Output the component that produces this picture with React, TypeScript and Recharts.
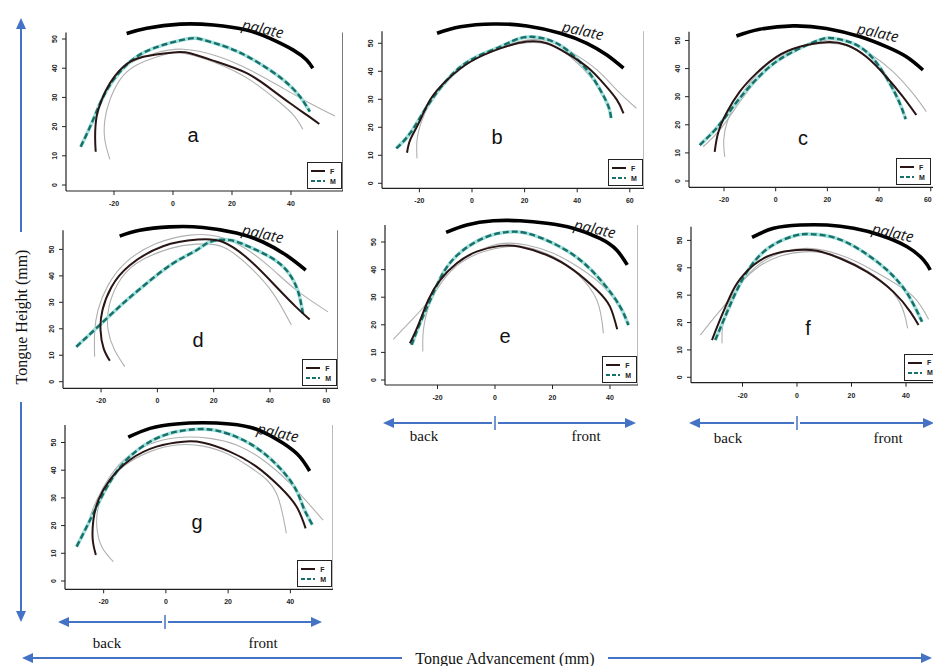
import React from 'react';
import { LineChart, Line, XAxis, YAxis, ReferenceLine, Legend } from 'recharts';

// ---------- data: [x (mm advancement), y (mm height)] ----------
const yTicks = [0, 10, 20, 30, 40, 50];
const xTicksShort = [-20, 0, 20, 40];
const xTicksLong = [-20, 0, 20, 40, 60];

const aPalate = [[-15.7,51.9],[-8.9,53.7],[2.4,55.1],[13.7,54.8],[24.9,53.1],[32.9,50.2],[40.8,46.2],[45.3,42.8],[47.4,40.0]];
const aF = [[-26.2,11.4],[-26.4,16.5],[-25.9,23.4],[-24.2,29.1],[-21.4,34.8],[-16.8,40.5],[-10.1,43.9],[0.1,45.4],[5.8,45.1],[14.8,42.2],[25.0,38.3],[32.9,33.1],[39.7,28.0],[45.3,24.0],[49.6,20.9]];
const aM = [[-31.3,13.1],[-27.6,21.1],[-24.2,29.1],[-20.2,36.0],[-14.6,42.2],[-6.7,46.8],[4.6,50.0],[10.3,49.7],[19.3,46.8],[28.4,42.2],[37.4,36.0],[43.1,30.2],[46.4,25.1]];
const aIn = [[-21.4,8.8],[-23.1,15.4],[-23.1,22.3],[-21.4,29.1],[-18.0,36.0],[-12.3,41.1],[-3.3,44.5],[3.5,45.1],[14.8,41.7],[26.1,36.0],[35.2,29.1],[40.8,24.0],[44.0,19.1]];
const aOut = [[-24.7,28.0],[-20.2,36.5],[-14.6,41.7],[-5.5,45.3],[3.5,46.5],[14.8,44.2],[26.1,39.4],[37.4,33.1],[46.4,28.0],[54.9,23.6]];

const bPalate = [[-13.3,53.6],[-4.4,55.9],[8.2,56.9],[20.9,56.2],[33.6,53.6],[43.7,50.0],[51.3,45.8],[57.6,41.1]];
const bF = [[-24.7,10.9],[-23.5,15.5],[-20.3,21.4],[-15.9,29.8],[-9.5,36.9],[-0.6,43.4],[10.8,48.2],[20.9,50.6],[28.5,50.0],[36.1,46.4],[43.7,41.6],[50.0,35.7],[55.1,29.8],[57.6,25.0]];
const bM = [[-28.8,12.5],[-23.5,17.9],[-17.1,27.4],[-9.5,36.9],[-0.6,44.0],[10.8,48.8],[19.6,52.1],[28.5,51.4],[36.1,47.6],[43.7,40.5],[48.8,33.3],[51.9,27.4],[52.9,23.2]];
const bIn = [[-20.9,8.9],[-20.9,15.5],[-19.0,22.6],[-15.2,29.8],[-8.9,36.9],[-0.6,43.4],[10.8,48.2],[20.9,50.2],[29.8,49.4],[37.4,45.2],[45.0,38.1],[50.0,30.9],[52.6,25.0]];
const bOut = [[-27.9,13.1],[-22.2,19.0],[-15.9,28.6],[-9.5,36.3],[-0.6,43.4],[10.8,48.6],[20.9,51.2],[29.8,50.6],[38.6,46.4],[47.5,40.5],[55.1,33.3],[62.5,26.8]];

const cPalate = [[-15.2,51.6],[-6.2,54.0],[6.7,55.2],[19.6,54.3],[32.5,51.4],[42.8,47.8],[50.6,44.2],[57.0,39.5]];
const cF = [[-23.6,10.4],[-22.3,17.0],[-19.1,24.1],[-13.9,31.8],[-7.5,38.3],[0.3,44.2],[9.3,47.8],[19.6,49.4],[27.4,48.4],[35.1,44.2],[42.8,37.1],[49.2,30.0],[54.4,23.5]];
const cM = [[-29.4,12.8],[-22.9,18.8],[-16.5,26.4],[-10.1,33.6],[-2.3,40.7],[6.7,46.0],[17.0,50.2],[22.2,50.8],[29.9,49.0],[37.6,43.7],[44.1,34.8],[48.0,27.7],[50.3,22.0]];
const cIn = [[-19.7,8.6],[-20.1,14.6],[-18.5,21.7],[-13.9,30.0],[-7.5,37.7],[0.3,43.7],[10.6,47.8],[19.6,49.0],[28.6,47.8],[36.4,43.1],[44.1,34.8],[49.2,25.3]];
const cOut = [[-28.1,12.2],[-21.7,18.1],[-15.2,26.4],[-8.8,34.2],[-1.0,41.3],[8.0,46.6],[18.3,49.9],[27.4,49.6],[36.4,45.4],[45.4,38.9],[53.1,31.2],[58.3,24.7]];

const dPalate = [[-13.4,55.0],[-6.3,57.2],[4.4,58.5],[16.2,58.3],[28.1,56.2],[37.5,52.8],[45.8,47.8],[52.7,42.2]];
const dF = [[-16.9,7.9],[-19.1,12.6],[-20.2,19.5],[-19.5,27.1],[-16.3,35.8],[-9.8,44.0],[2.0,51.2],[14.4,53.7],[23.3,52.8],[32.8,45.9],[42.3,35.8],[49.4,28.1],[54.1,23.5]];
const dM = [[-28.8,13.2],[-20.5,21.4],[-12.2,29.6],[-3.9,37.1],[5.5,44.7],[13.9,49.7],[18.6,52.8],[25.7,53.5],[32.8,50.9],[39.9,47.2],[45.8,42.2],[49.4,35.8],[50.8,30.8],[51.7,25.8]];
const dIn = [[-11.6,5.7],[-15.2,12.0],[-17.5,19.5],[-17.2,28.3],[-14.0,37.1],[-7.5,44.7],[4.4,50.3],[13.9,52.0],[23.3,50.9],[32.8,43.4],[41.1,33.4],[47.6,21.4]];
const dOut = [[-22.3,9.4],[-22.3,18.3],[-21.1,27.1],[-17.5,36.5],[-11.0,45.3],[-0.4,52.2],[11.5,55.4],[21.0,55.0],[30.4,50.9],[39.9,43.4],[49.4,34.6],[60.6,26.4]];

const ePalate = [[-17.0,53.5],[-9.8,56.2],[-0.6,57.7],[8.7,57.7],[18.0,56.8],[27.2,55.0],[36.5,51.3],[42.3,47.1],[46.0,41.7]];
const eF = [[-29.6,13.3],[-26.7,19.9],[-23.2,29.0],[-19.1,36.2],[-13.3,42.3],[-6.4,46.5],[1.7,48.6],[8.7,48.3],[18.0,45.3],[27.2,39.9],[35.4,32.6],[40.0,26.6],[42.5,18.4]];
const eM = [[-29.0,12.7],[-26.1,20.5],[-22.0,30.2],[-17.4,39.9],[-11.0,47.1],[-2.9,51.9],[4.1,53.6],[11.0,53.2],[20.3,49.5],[29.6,43.5],[37.7,35.0],[43.5,26.6],[46.4,19.9]];
const eIn = [[-25.1,10.3],[-24.9,18.1],[-22.6,27.8],[-18.0,36.2],[-12.2,42.3],[-4.1,46.5],[4.1,48.3],[11.0,48.1],[20.3,44.7],[28.4,38.7],[35.4,29.0],[37.7,16.9]];
const eOut = [[-35.4,14.7],[-29.6,21.1],[-23.8,27.8],[-19.1,35.6],[-13.3,42.3],[-5.2,47.1],[2.9,49.5],[11.0,48.9],[20.3,45.9],[29.6,40.5],[38.9,32.6],[46.7,20.5]];

const fPalate = [[-16.5,51.1],[-8.6,54.4],[1.2,55.6],[11.0,55.6],[20.8,54.4],[30.6,51.9],[40.4,47.7],[46.5,42.8],[48.9,39.2]];
const fF = [[-31.2,13.6],[-28.8,19.7],[-25.7,27.0],[-22.0,34.3],[-15.9,41.0],[-8.6,45.0],[0,46.5],[7.3,46.2],[15.9,43.4],[25.7,38.5],[35.4,31.2],[41.6,23.9],[44.6,19.1]];
const fM = [[-30.0,13.6],[-26.9,20.9],[-22.6,30.7],[-17.1,40.4],[-9.8,47.7],[-1.2,51.6],[4.9,52.3],[13.4,51.1],[23.2,46.5],[33.0,39.2],[40.4,30.7],[45.9,20.3]];
const fIn = [[-27.5,12.4],[-27.2,19.1],[-24.5,28.2],[-20.2,34.9],[-14.1,40.4],[-6.1,44.3],[2.4,45.8],[11.0,45.3],[20.8,41.6],[30.6,35.5],[37.9,27.0],[40.6,17.9]];
const fOut = [[-35.5,15.4],[-30.6,21.5],[-25.1,28.2],[-19.6,35.5],[-13.5,41.6],[-4.9,45.8],[3.7,47.1],[12.2,45.8],[21.9,42.2],[33.0,36.1],[42.8,29.4],[48.3,21.2]];

const gPalate = [[-12.1,51.9],[-5.1,55.1],[3.4,56.7],[12.0,57.1],[20.5,56.7],[29.1,54.8],[37.7,49.7],[43.0,44.9],[46.2,39.7]];
const gF = [[-22.5,9.4],[-23.5,14.8],[-23.3,22.0],[-21.7,29.2],[-18.0,36.5],[-11.6,43.7],[-3.0,48.5],[5.6,50.3],[12.0,49.9],[20.5,46.7],[29.1,41.3],[36.6,34.0],[42.0,26.8],[44.9,19.0]];
const gM = [[-28.7,12.4],[-24.9,20.8],[-21.2,29.2],[-16.9,37.7],[-11.6,44.9],[-4.1,50.9],[3.4,53.9],[9.9,54.8],[16.3,54.3],[24.8,50.9],[33.4,44.3],[40.9,34.7],[44.1,26.8],[47.1,20.2]];
const gIn = [[-16.9,7.0],[-20.6,12.4],[-22.2,19.6],[-21.7,26.8],[-19.0,34.0],[-13.7,41.3],[-5.1,46.7],[3.4,49.1],[12.0,48.7],[20.5,45.5],[29.1,39.5],[35.5,31.7],[38.7,17.2]];
const gOut = [[-24.4,23.2],[-22.2,29.2],[-18.0,37.7],[-11.6,45.5],[-3.0,50.3],[5.6,51.9],[14.1,51.5],[22.7,49.1],[31.2,43.7],[39.8,35.3],[50.5,22.0]];

// ---------- styles ----------
const F_COLOR = '#2a1515';
const M_DARK = '#17706a';
const M_LIGHT = '#a3e0db';
const GREY = '#b0b0b0';
const AXIS = '#222';
const BLUE = '#4472C4';
const SANS = '"Liberation Sans", Arial, sans-serif';
const SERIF = '"Liberation Serif", "Times New Roman", serif';
const PAGE_W = 933;

const toPts = (arr: number[][]) => arr.map(([x, y]) => ({ x, y }));

type PanelCfg = {
  id: string;
  left: number; top: number; width: number; height: number;
  xDomain: [number, number]; yDomain: [number, number];
  xTicks: number[]; frameTop: number; rightFrame: boolean; legendShift: number;
  palate: number[][]; f: number[][]; m: number[][]; inner: number[][]; outer: number[][];
};

const XH = 24; // x-axis band height
const YW = 30; // y-axis band width

const panels: PanelCfg[] = [
  { id: 'a', left: 36, top: 15, width: YW + 277, height: 176 + XH, xDomain: [-36.27, 57.63], yDomain: [-2.05, 58.22], xTicks: xTicksShort, frameTop: 52.2, rightFrame: true, legendShift: 0, palate: aPalate, f: aF, m: aM, inner: aIn, outer: aOut },
  { id: 'b', left: 351.7, top: 15, width: YW + 262.3, height: 173.3 + XH, xDomain: [-34.22, 65.51], yDomain: [-1.79, 60.1], xTicks: xTicksLong, frameTop: 54.3, rightFrame: true, legendShift: 0, palate: bPalate, f: bF, m: bM, inner: bIn, outer: bOut },
  { id: 'c', left: 659.3, top: 15, width: YW + 247.7, height: 172.3 + XH, xDomain: [-33.54, 62.3], yDomain: [-2.24, 59.07], xTicks: xTicksLong, frameTop: 53.1, rightFrame: true, legendShift: 5, palate: cPalate, f: cF, m: cM, inner: cIn, outer: cOut },
  { id: 'd', left: 33.3, top: 215, width: YW + 275, height: 173.3 + XH, xDomain: [-33.53, 64.16], yDomain: [-2.49, 63.0], xTicks: xTicksLong, frameTop: 57.2, rightFrame: true, legendShift: 0, palate: dPalate, f: dF, m: dM, inner: dIn, outer: dOut },
  { id: 'e', left: 355, top: 210, width: YW + 253.3, height: 175 + XH, xDomain: [-38.26, 49.84], yDomain: [-1.81, 61.6], xTicks: xTicksShort, frameTop: 56.2, rightFrame: true, legendShift: 0, palate: ePalate, f: eF, m: eM, inner: eIn, outer: eOut },
  { id: 'f', left: 660.7, top: 210, width: YW + 249.3, height: 172.7 + XH, xDomain: [-38.9, 52.59], yDomain: [-1.97, 61.1], xTicks: xTicksShort, frameTop: 55.0, rightFrame: true, legendShift: 0, palate: fPalate, f: fF, m: fM, inner: fIn, outer: fOut },
  { id: 'g', left: 35, top: 410, width: YW + 268.3, height: 179.3 + XH, xDomain: [-32.42, 53.79], yDomain: [-3.0, 61.73], xTicks: xTicksShort, frameTop: 56.3, rightFrame: true, legendShift: 0, palate: gPalate, f: gF, m: gM, inner: gIn, outer: gOut },
];

const tickFont = { fontSize: 7, fill: AXIS, fontFamily: SANS, fontWeight: 700 };

const makeYTick = () => (props: any) => {
  const { x, y, payload } = props;
  const bx = x - 3;
  return (
    <text x={bx} y={y} transform={`rotate(-90 ${bx} ${y})`} textAnchor="middle" {...tickFont}>
      {payload.value}
    </text>
  );
};

const makeXTick = (pageLeft: number) => (props: any) => {
  const { x, y, payload } = props;
  const nearEdge = pageLeft + x + 5 > PAGE_W;
  return (
    <text x={nearEdge ? PAGE_W - pageLeft - 1 : x} y={y} dy="0.71em" textAnchor={nearEdge ? 'end' : 'middle'} {...tickFont}>
      {payload.value}
    </text>
  );
};

const LegendBox = () => (
  <div style={{ width: 35, height: 27, border: `1px solid ${AXIS}`, background: '#fff', boxSizing: 'border-box', fontFamily: SANS, fontSize: 7, fontWeight: 700, color: AXIS, padding: '3px 3px', lineHeight: '9px' }}>
    <div style={{ display: 'flex', alignItems: 'center', height: 10 }}>
      <svg width={14} height={4}><line x1={0} y1={2} x2={14} y2={2} stroke={F_COLOR} strokeWidth={2} /></svg>
      <span style={{ marginLeft: 5 }}>F</span>
    </div>
    <div style={{ display: 'flex', alignItems: 'center', height: 10 }}>
      <svg width={14} height={4}><line x1={0} y1={2} x2={14} y2={2} stroke={M_DARK} strokeWidth={2.2} strokeDasharray="4 2" /></svg>
      <span style={{ marginLeft: 5 }}>M</span>
    </div>
  </div>
);

const Panel = ({ cfg }: { cfg: PanelCfg }) => {
  const { xDomain, yDomain } = cfg;
  return (
    <div style={{ position: 'absolute', left: cfg.left, top: cfg.top }}>
      <LineChart width={cfg.width} height={cfg.height} margin={{ top: 0, right: 0, bottom: 0, left: 0 }}>
        <XAxis type="number" dataKey="x" domain={xDomain} ticks={cfg.xTicks} allowDataOverflow interval={0}
          height={XH} tickSize={4} tickMargin={6} tick={makeXTick(cfg.left)}
          axisLine={{ stroke: AXIS, strokeWidth: 1.2 }} tickLine={{ stroke: AXIS }} />
        <YAxis type="number" domain={yDomain} ticks={yTicks} allowDataOverflow interval={0}
          width={YW} tickSize={4} tick={makeYTick()} axisLine={false} tickLine={{ stroke: AXIS }} />
        <ReferenceLine segment={[{ x: xDomain[0], y: yDomain[0] }, { x: xDomain[0], y: cfg.frameTop }]} stroke={AXIS} strokeWidth={1.2} ifOverflow="visible" />
        {cfg.rightFrame && (
          <ReferenceLine segment={[{ x: xDomain[1], y: yDomain[0] }, { x: xDomain[1], y: cfg.frameTop }]} stroke={AXIS} strokeWidth={1.2} ifOverflow="visible" />
        )}
        <Line name={`${cfg.id}-inner`} data={toPts(cfg.inner)} dataKey="y" type="natural" stroke={GREY} strokeWidth={1.1} dot={false} isAnimationActive={false} legendType="none" />
        <Line name={`${cfg.id}-outer`} data={toPts(cfg.outer)} dataKey="y" type="natural" stroke={GREY} strokeWidth={1.1} dot={false} isAnimationActive={false} legendType="none" />
        <Line name={`${cfg.id}-M-halo`} data={toPts(cfg.m)} dataKey="y" type="natural" stroke={M_LIGHT} strokeWidth={3.6} dot={false} isAnimationActive={false} legendType="none" />
        <Line name="M" data={toPts(cfg.m)} dataKey="y" type="natural" stroke={M_DARK} strokeWidth={2.4} strokeDasharray="6 3" dot={false} isAnimationActive={false} />
        <Line name="F" data={toPts(cfg.f)} dataKey="y" type="natural" stroke={F_COLOR} strokeWidth={2} dot={false} isAnimationActive={false} />
        <Line name="palate" data={toPts(cfg.palate)} dataKey="y" type="natural" stroke="#000" strokeWidth={3.6} dot={false} isAnimationActive={false} legendType="none" />
        <Legend layout="horizontal" verticalAlign="middle" align="center"
          wrapperStyle={{ left: cfg.width - 36 - cfg.legendShift, top: cfg.height - XH - 29, width: 35, height: 27 }}
          content={() => <LegendBox />} />
      </LineChart>
    </div>
  );
};

// ---------- annotations ----------
const letters = [
  { t: 'a', x: 193, y: 135 }, { t: 'b', x: 497, y: 137 }, { t: 'c', x: 803, y: 138 },
  { t: 'd', x: 198, y: 340 }, { t: 'e', x: 505, y: 336 }, { t: 'f', x: 808, y: 328 }, { t: 'g', x: 197, y: 522 },
];
const palateLabels = [
  { x: 263, y: 28 }, { x: 583, y: 30 }, { x: 878, y: 32 },
  { x: 263, y: 233 }, { x: 595, y: 228 }, { x: 893, y: 232 }, { x: 278, y: 432 },
];
const dirArrows = [
  { y: 423, x1: 383, x2: 636, mid: 495, back: 424, front: 586, ty: 441 },
  { y: 423, x1: 689, x2: 934, mid: 797, back: 728, front: 888, ty: 443 },
  { y: 622, x1: 58, x2: 322, mid: 165, back: 107, front: 263, ty: 648 },
];

const headL = (x: number, y: number, s = 11, w = 5) => `M${x},${y} L${x + s},${y - w} L${x + s},${y + w} Z`;
const headR = (x: number, y: number, s = 11, w = 5) => `M${x},${y} L${x - s},${y - w} L${x - s},${y + w} Z`;
const headU = (x: number, y: number, s = 11, w = 5) => `M${x},${y} L${x - w},${y + s} L${x + w},${y + s} Z`;
const headD = (x: number, y: number, s = 11, w = 5) => `M${x},${y} L${x - w},${y - s} L${x + w},${y - s} Z`;

const Overlay = () => (
  <svg width={933} height={666} style={{ position: 'absolute', left: 0, top: 0, pointerEvents: 'none' }}>
    <line x1={21} y1={28} x2={21} y2={232} stroke={BLUE} strokeWidth={2} />
    <line x1={21} y1={402} x2={21} y2={612} stroke={BLUE} strokeWidth={2} />
    <path d={headU(21, 18)} fill={BLUE} />
    <path d={headD(21, 622)} fill={BLUE} />
    <text x={21} y={317} transform="rotate(-90 21 317)" textAnchor="middle" dominantBaseline="central" fontFamily={SERIF} fontSize={16} fill="#111">Tongue Height (mm)</text>
    <line x1={32} y1={658} x2={402} y2={658} stroke={BLUE} strokeWidth={2} />
    <line x1={608} y1={658} x2={922} y2={658} stroke={BLUE} strokeWidth={2} />
    <path d={headL(22, 658)} fill={BLUE} />
    <path d={headR(932, 658)} fill={BLUE} />
    <text x={505} y={658} textAnchor="middle" dominantBaseline="central" fontFamily={SERIF} fontSize={16} fill="#111">Tongue Advancement (mm)</text>
    {dirArrows.map((a, i) => (
      <g key={i}>
        <line x1={a.x1 + 10} y1={a.y} x2={a.mid - 3} y2={a.y} stroke={BLUE} strokeWidth={2} />
        <line x1={a.mid + 3} y1={a.y} x2={a.x2 - 10} y2={a.y} stroke={BLUE} strokeWidth={2} />
        <line x1={a.mid} y1={a.y - 7} x2={a.mid} y2={a.y + 7} stroke={BLUE} strokeWidth={1.5} />
        <path d={headL(a.x1, a.y)} fill={BLUE} />
        <path d={headR(a.x2, a.y)} fill={BLUE} />
        <text x={a.back} y={a.ty} textAnchor="middle" fontFamily={SERIF} fontSize={15} fill="#111">back</text>
        <text x={a.front} y={a.ty} textAnchor="middle" fontFamily={SERIF} fontSize={15} fill="#111">front</text>
      </g>
    ))}
    {letters.map((l) => (
      <text key={l.t} x={l.x} y={l.y} textAnchor="middle" dominantBaseline="central" fontFamily={SANS} fontSize={20} fill="#111">{l.t}</text>
    ))}
    {palateLabels.map((p, i) => (
      <text key={i} x={p.x} y={p.y} transform={`rotate(12 ${p.x} ${p.y})`} textAnchor="middle" dominantBaseline="central" fontFamily='"Open Sans", sans-serif' fontStyle="italic" fontSize={15} fill="#111">palate</text>
    ))}
  </svg>
);

export default function App() {
  return (
    <div style={{ position: 'absolute', left: 0, top: 0, width: 933, height: 666, overflow: 'hidden', background: '#fff' }}>
      {panels.map((p) => <Panel key={p.id} cfg={p} />)}
      <Overlay />
    </div>
  );
}
